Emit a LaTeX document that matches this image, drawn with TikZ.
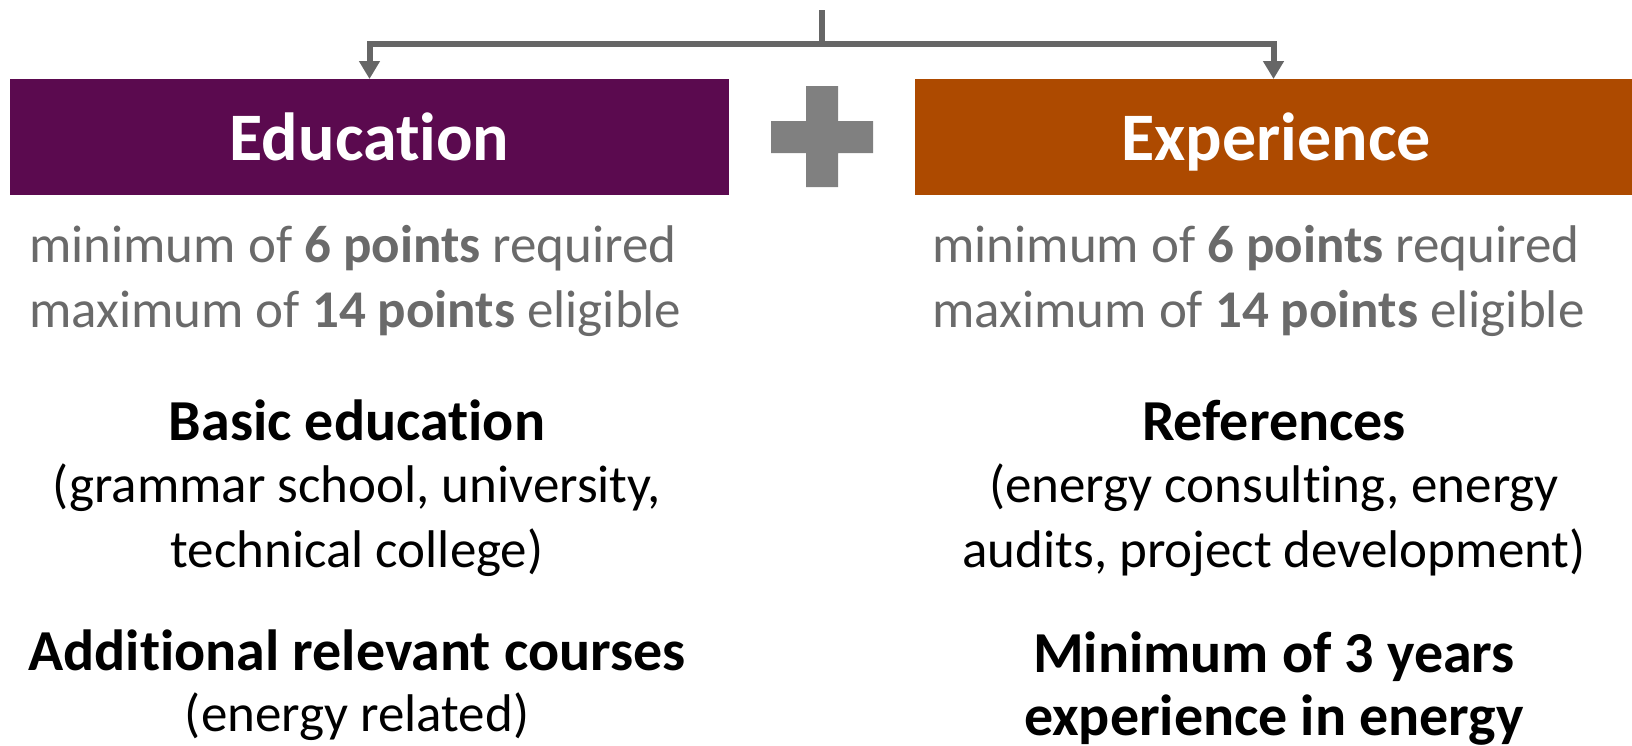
\documentclass[tikz,border=0pt]{standalone}
\usepackage{fontspec}
\setmainfont{Carlito}[Ligatures=NoCommon]
\usetikzlibrary{arrows.meta}
\definecolor{edupurple}{HTML}{5B0A4F}
\definecolor{exporange}{HTML}{AD4A00}
\definecolor{linegray}{HTML}{666666}
\definecolor{plusgray}{HTML}{808080}
\definecolor{txtgray}{HTML}{6A6A6A}
\begin{document}
\begin{tikzpicture}[x=1pt,y=-1pt,
  conn/.style={draw=linegray,line width=6pt,-{Triangle[width=20pt,length=18pt]}},
  stem/.style={draw=linegray,line width=6pt},
  bar/.style={inner sep=0pt,outer sep=0pt,anchor=north west},
  title/.style={text=white,font=\fontsize{68}{80}\selectfont\bfseries,anchor=base,inner sep=0pt},
  pts/.style={text=txtgray,font=\fontsize{53}{65}\selectfont,anchor=base west,align=left,inner sep=0pt},
  head/.style={text=black,font=\fontsize{58}{63}\selectfont\bfseries,anchor=base,align=center,inner sep=0pt},
  sub/.style={text=black,font=\fontsize{53}{65}\selectfont,anchor=base,align=center,inner sep=0pt},
]
\useasboundingbox (0,0) rectangle (1632,745);
\fill[white] (0,0) rectangle (1632,745);

% boxes
\node[bar,fill=edupurple,minimum width=719pt,minimum height=116pt] (edu) at (10,79) {};
\node[bar,fill=exporange,minimum width=717pt,minimum height=116pt] (exp) at (915,79) {};
\node[title] (edutitle) at (369.5,160.5) {Education};
\node[title] (exptitle) at (1276,160.5) {Experience};

% plus sign
\fill[plusgray] (806,86) -- (838,86) -- (838,121) -- (873,121) -- (873,153) -- (838,153)
  -- (838,187) -- (806,187) -- (806,153) -- (771,153) -- (771,121) -- (806,121) -- cycle;

% connectors
\coordinate (top) at (822,10);
\coordinate (split) at (822,44);
\draw[conn] (split) -| (edu.north);
\draw[conn] (split) -| (exp.north);
\draw[stem] (top) -- (split);

% left column (multi-line nodes: base = last line)
\node[pts] (edupts) at (29,327) {minimum of \textbf{6 points} required\\maximum of \textbf{14 points} eligible};
\node[head] (basic) at (357,440) {Basic education};
\node[sub] (basicsub) at (357,567) {(grammar school, university,\\technical college)};
\node[head] (addl) at (357,670) {Additional relevant courses};
\node[sub] (addlsub) at (357,731) {(energy related)};

% right column
\node[pts] (exppts) at (932,327) {minimum of \textbf{6 points} required\\maximum of \textbf{14 points} eligible};
\node[head] (refs) at (1274,440) {References};
\node[sub] (refssub) at (1274,567) {(energy consulting, energy\\audits, project development)};
\node[head] (years) at (1274,735) {Minimum of 3 years\\experience in energy};
\end{tikzpicture}
\end{document}
